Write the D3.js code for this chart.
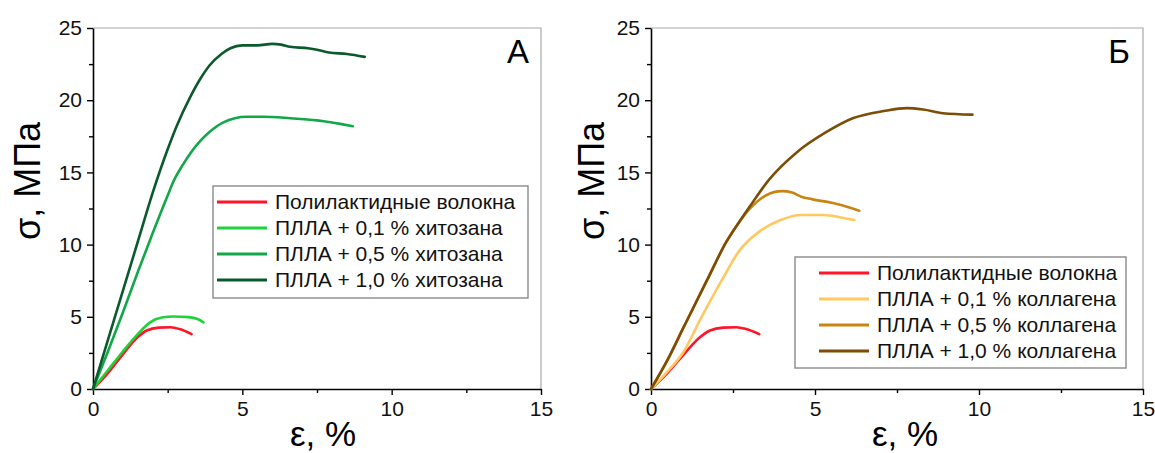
<!DOCTYPE html>
<html>
<head>
<meta charset="utf-8">
<script src="https://cdn.jsdelivr.net/npm/d3@7"></script>
<style>
  body { margin: 0; background: #fff; }
  svg { font-family: "Liberation Sans", Arial, sans-serif; }
</style>
</head>
<body>
<svg id="chart" width="1155" height="453"></svg>
<script>
"use strict"

// strain (%) / stress (MPa) pairs
let plaFibers = [[0,0],[0.5,1.1],[1.0,2.4],[1.5,3.6],[1.8,4.05],[2.2,4.25],[2.6,4.28],[2.9,4.15],[3.3,3.8]];

let chitosan01 = [[0,0],[0.5,1.3],[1.0,2.6],[1.5,3.8],[1.9,4.6],[2.3,4.95],[2.7,5.02],[3.2,4.98],[3.5,4.85],[3.7,4.62]];
let chitosan05 = [[0,0],[0.5,2.6],[1.0,5.3],[1.5,8.1],[2.0,10.8],[2.5,13.4],[2.7,14.4],[3.0,15.5],[3.25,16.3],[3.6,17.2],[3.9,17.8],[4.35,18.45],[5.15,18.85],[5.7,18.85],[6.6,18.75],[7.5,18.6],[8.7,18.2]];
let chitosan10 = [[0,0],[0.5,3.4],[1.0,6.8],[1.5,10.2],[2.0,13.6],[2.5,16.6],[2.8,18.2],[3.25,20.2],[3.6,21.5],[3.9,22.4],[4.3,23.2],[4.6,23.6],[5.0,23.8],[5.5,23.8],[6.0,23.9],[6.3,23.85],[6.6,23.7],[7.2,23.6],[7.5,23.5],[7.9,23.3],[8.5,23.2],[9.1,23.0]];

let collagen01 = [[0,0],[0.5,1.2],[1.0,2.6],[1.5,4.8],[2.15,7.5],[2.7,9.6],[3.3,10.9],[3.95,11.7],[4.55,12.05],[5.25,12.05],[5.75,11.9],[6.2,11.7]];
let collagen05 = [[0,0],[0.5,2.0],[1.0,4.3],[1.7,7.5],[2.3,10.2],[2.7,11.6],[3.0,12.45],[3.5,13.4],[4.0,13.7],[4.3,13.6],[4.6,13.3],[4.9,13.15],[5.7,12.8],[6.35,12.35]];
let collagen10 = [[0,0],[0.5,2.0],[1.0,4.3],[1.7,7.5],[2.3,10.2],[2.7,11.6],[3.0,12.6],[3.6,14.5],[4.45,16.4],[5.35,17.8],[6.15,18.75],[7.1,19.25],[7.8,19.45],[8.3,19.35],[8.9,19.1],[9.8,19.0]];

let labelsA = ["Полилактидные волокна", "ПЛЛА + 0,1 % хитозана", "ПЛЛА + 0,5 % хитозана", "ПЛЛА + 1,0 % хитозана"];
let labelsB = ["Полилактидные волокна", "ПЛЛА + 0,1 % коллагена", "ПЛЛА + 0,5 % коллагена", "ПЛЛА + 1,0 % коллагена"];
let colorsA = ["#ff1428", "#1fd13a", "#12a84a", "#0b5a2c"];
let colorsB = ["#ff1428", "#ffc861", "#c98412", "#7d4d06"];

let xTicks = [0, 5, 10, 15];
let yTicks = [0, 5, 10, 15, 20, 25];

var svg = d3.select("#chart");

function drawPanel(p) {
    var g = svg.append("g");

    var x = d3.scaleLinear().domain([0, 15]).range([p.left, p.right]);
    var y = d3.scaleLinear().domain([0, 25]).range([389, 28]);

    // grey frame on top and right
    g.append("path")
        .attr("d", "M" + x(0) + "," + y(25) + "H" + x(15) + "V" + y(0))
        .attr("fill", "none")
        .attr("stroke", "#a8a8a8")
        .attr("stroke-width", 1.2);

    // minor ticks
    g.append("g")
        .attr("transform", "translate(0," + y(0) + ")")
        .call(d3.axisBottom(x).tickValues([2.5, 7.5, 12.5]).tickSize(4).tickFormat(""))
        .call(a => a.select(".domain").remove());
    g.append("g")
        .attr("transform", "translate(" + x(0) + ",0)")
        .call(d3.axisLeft(y).tickValues([2.5, 7.5, 12.5, 17.5, 22.5]).tickSize(4).tickFormat(""))
        .call(a => a.select(".domain").remove());

    var xa = g.append("g")
        .attr("transform", "translate(0," + y(0) + ")")
        .call(d3.axisBottom(x).tickValues(xTicks).tickSize(6).tickSizeOuter(0).tickPadding(6));
    var ya = g.append("g")
        .attr("transform", "translate(" + x(0) + ",0)")
        .call(d3.axisLeft(y).tickValues(yTicks).tickSize(6).tickSizeOuter(0).tickPadding(5));

    [xa, ya].forEach(a => {
        a.select(".domain").attr("stroke-width", 1.6);
        a.selectAll(".tick text").style("font-size", "21px").attr("fill", "#111").attr("font-family", "Liberation Sans, Arial, sans-serif");
    });
    g.selectAll(".tick line").attr("stroke-width", 1.4);

    // curves
    var line = d3.line()
        .x(d => x(d[0]))
        .y(d => y(d[1]))
        .curve(d3.curveMonotoneX);

    g.append("g")
        .selectAll("path")
        .data(p.series)
        .enter()
        .append("path")
        .attr("d", line)
        .attr("fill", "none")
        .attr("stroke", (d, i) => p.colors[i])
        .attr("stroke-width", 2.6)
        .attr("stroke-linejoin", "round")
        .attr("stroke-linecap", "round");

    // axis titles
    g.append("text")
        .attr("x", p.xTitleX)
        .attr("y", 446)
        .attr("text-anchor", "middle")
        .style("font-size", "35px")
        .text("ε, %");
    g.append("text")
        .attr("transform", "translate(" + p.yTitleX + ",181) rotate(-90)")
        .attr("text-anchor", "middle")
        .style("font-size", "36px")
        .text("σ, МПа");

    // panel letter
    g.append("text")
        .attr("x", p.letterX)
        .attr("y", 63)
        .attr("text-anchor", "middle")
        .style("font-size", "33px")
        .text(p.letter);

    // legend
    var lg = g.append("g");
    lg.append("rect")
        .attr("x", p.legend[0])
        .attr("y", p.legend[1])
        .attr("width", p.legend[2])
        .attr("height", p.legend[3])
        .attr("fill", "#fff")
        .attr("stroke", "#8a8a8a")
        .attr("stroke-width", 1.4);
    var items = lg.selectAll("g.item")
        .data(p.labels)
        .enter()
        .append("g")
        .attr("transform", (d, i) => "translate(0," + (p.legend[1] + 16 + i * 26) + ")");
    items.append("line")
        .attr("x1", p.legend[0] + p.lineStart)
        .attr("x2", p.legend[0] + p.lineStart + 50)
        .attr("stroke", (d, i) => p.colors[i])
        .attr("stroke-width", 3);
    items.append("text")
        .attr("x", p.legend[0] + p.lineStart + 58)
        .attr("dy", "0.35em")
        .style("font-size", "21px")
        .attr("fill", "#111")
        .text(d => d);
}

drawPanel({
    left: 93, right: 541,
    series: [plaFibers, chitosan01, chitosan05, chitosan10],
    colors: colorsA, labels: labelsA,
    legend: [213, 186, 315, 112], lineStart: 4,
    xTitleX: 323, yTitleX: 40, letterX: 518, letter: "А"
});

drawPanel({
    left: 651, right: 1143,
    series: [plaFibers, collagen01, collagen05, collagen10],
    colors: colorsB, labels: labelsB,
    legend: [795, 257, 331, 111], lineStart: 24,
    xTitleX: 905, yTitleX: 604, letterX: 1119, letter: "Б"
});
</script>
</body>
</html>
